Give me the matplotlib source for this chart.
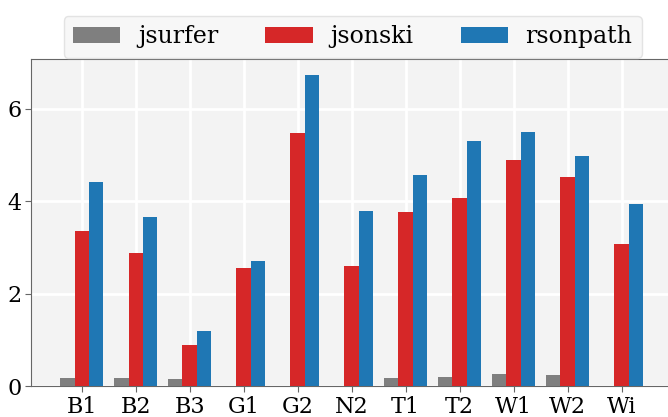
import matplotlib
matplotlib.use('Agg')
import matplotlib.pyplot as plt
import numpy as np

# dataset names and per-tool values
datasets = ['B1', 'B2', 'B3', 'G1', 'G2', 'N2', 'T1', 'T2', 'W1', 'W2', 'Wi']
jsurfer = [0.17, 0.17, 0.15, 0.0, 0.0, 0.0, 0.18, 0.20, 0.25, 0.23, 0.0]
jsonski = [3.35, 2.88, 0.89, 2.56, 5.48, 2.60, 3.76, 4.07, 4.88, 4.51, 3.07]
rsonpath = [4.42, 3.65, 1.19, 2.71, 6.73, 3.79, 4.57, 5.30, 5.50, 4.98, 3.94]

series = [('jsurfer', jsurfer, '#7f7f7f'),
          ('jsonski', jsonski, '#d62728'),
          ('rsonpath', rsonpath, '#1f77b4')]

plt.rcParams['font.family'] = ['DejaVu Serif']
plt.rcParams['font.size'] = 16

fig = plt.figure(figsize=(6.68, 4.17), dpi=100)
ax = fig.add_axes([0.0464, 0.0743, 0.96, 0.784])
ax.set_facecolor('#f3f3f3')

x = np.arange(len(datasets))
w = 0.8 / 3
for i, (name, vals, col) in enumerate(series):
    ax.bar(x + (i - 1) * w, vals, w, color=col, label=name, zorder=3)

ax.set_xticks(x)
ax.set_xticklabels(datasets)
ax.set_yticks([0, 2, 4, 6])
ax.grid(True, color='white', linewidth=2, zorder=0)
ax.set_axisbelow(True)

for s in ['left', 'top', 'bottom']:
    ax.spines[s].set_color('#666666')
ax.spines['right'].set_visible(False)
ax.tick_params(colors='#666666', labelcolor='black', length=4, pad=3)

ax.set_xlim(-0.94, 10.94)
ax.set_ylim(0, 7.07)

fig.legend(loc='upper center', bbox_to_anchor=(0.528, 0.99), ncol=3,
           fontsize=17, handlelength=2.0, columnspacing=2.0, handletextpad=0.75,
           facecolor='#f5f5f5', edgecolor='#dddddd', fancybox=True,
           borderpad=0.4)

fig.savefig('out.png', dpi=100)
